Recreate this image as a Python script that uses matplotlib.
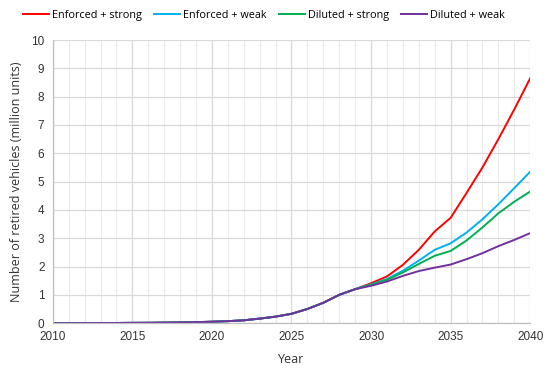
import numpy as np
import matplotlib.pyplot as plt
from matplotlib.ticker import MultipleLocator

years = list(range(2010, 2041))

# shared ramp up to 2029, then the four scenarios split
common = [0.0, 0.0, 0.002, 0.004, 0.006, 0.01, 0.012, 0.018, 0.025, 0.035,
          0.05, 0.07, 0.1, 0.16, 0.23, 0.33, 0.5, 0.72, 1.0, 1.2]

enforced_strong = common + [1.41, 1.65, 2.06, 2.59, 3.24, 3.72, 4.6, 5.5, 6.5, 7.55, 8.65]
enforced_weak = common + [1.37, 1.56, 1.85, 2.21, 2.59, 2.82, 3.2, 3.67, 4.2, 4.77, 5.35]
diluted_strong = common + [1.36, 1.53, 1.79, 2.09, 2.38, 2.55, 2.92, 3.38, 3.88, 4.29, 4.65]
diluted_weak = common + [1.32, 1.47, 1.67, 1.84, 1.96, 2.07, 2.26, 2.47, 2.72, 2.94, 3.18]

labels = ["Enforced + strong", "Enforced + weak", "Diluted + strong", "Diluted + weak"]
colors = ["#ff0000", "#00b0f0", "#00b050", "#7030a0"]
series = [enforced_strong, enforced_weak, diluted_strong, diluted_weak]

plt.rcParams["font.family"] = ["Open Sans", "DejaVu Sans"]

fig = plt.figure(figsize=(5.5, 3.71), dpi=100)
ax = fig.add_axes([0.096, 0.129, 0.868, 0.763])

for vals, lab, col in zip(series, labels, colors):
    ax.plot(years, vals, color=col, lw=1.4, label=lab)

ax.set_xlim(2010, 2040)
ax.set_ylim(0, 10)
ax.xaxis.set_major_locator(MultipleLocator(5))
ax.xaxis.set_minor_locator(MultipleLocator(1))
ax.yaxis.set_major_locator(MultipleLocator(1))

ax.grid(which="major", color="#d9d9d9", lw=0.9)
ax.grid(which="minor", axis="x", color="#ececec", lw=0.8)
ax.set_axisbelow(True)

for s in ["top", "right"]:
    ax.spines[s].set_visible(False)
for s in ["left", "bottom"]:
    ax.spines[s].set_color("#bfbfbf")
    ax.spines[s].set_linewidth(0.9)

ax.tick_params(which="both", length=0, labelsize=8.5, colors="#333333", pad=6)
for t in ax.get_xticklabels() + ax.get_yticklabels():
    t.set_family("Liberation Sans")
ax.set_xlabel("Year", fontsize=9, color="#333333", labelpad=7)
ax.set_ylabel("Number of retired vehicles (million units)", fontsize=9,
              color="#333333", labelpad=6)

fig.legend(loc="upper center", bbox_to_anchor=(0.48, 1.0), ncol=4, frameon=False,
           fontsize=7.8, handlelength=2.4, handletextpad=0.3, columnspacing=1.1)

fig.savefig("out.png", dpi=100)
